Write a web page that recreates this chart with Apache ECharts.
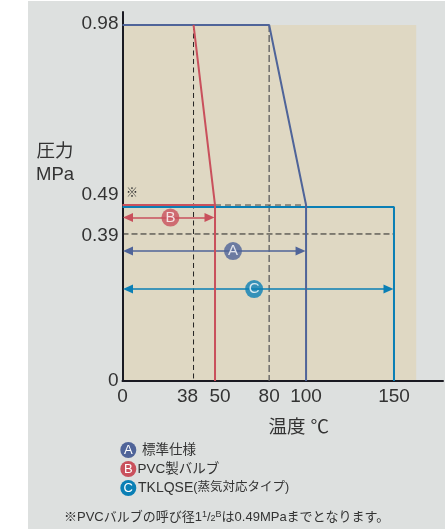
<!DOCTYPE html>
<html>
<head>
<meta charset="utf-8">
<style>
html, body { margin: 0; padding: 0; background: #fff; }
#chart { width: 445px; height: 529px; }
</style>
<script src="https://cdn.jsdelivr.net/npm/echarts@6/dist/echarts.min.js"></script>
</head>
<body>
<div id="chart"></div>
<script>
// tick labels, and where the (not to scale) diagram draws each one
var xTicks = [0, 38, 50, 80, 100, 150];
var xDrawn = [0, 38.7, 50.4, 79.9, 100, 147.9];
var yTicks = [0, 0.39, 0.49, 0.98];
var yDrawn = [0, 0.4047, 0.4844, 0.98];

// pressure / temperature limits [temp, MPa]
var seriesA = [[0, 0.98], [80, 0.98], [100, 0.49], [100, 0]];
var seriesB = [[38, 0.98], [50, 0.49], [50, 0]];
var seriesBTop = [[0, 0.49], [50, 0.49]];
var seriesC = [[0, 0.49], [150, 0.49], [150, 0]];

// dashed guides
var guide38 = [[38, 0.98], [38, 0]];
var guide80 = [[80, 0.98], [80, 0]];
var guide49 = [[50, 0.49], [100, 0.49]];
var guide39 = [[0, 0.39], [150, 0.39]];

// range arrows: name, max temp, drawn height, badge position
var rangeNames = ['A', 'B', 'C'];
var rangeMax = [100, 50, 150];
var rangeHeight = [0.3577, 0.45, 0.2532];
var badgeX = [60.2, 26.1, 71.7];

var legendNames = ['標準仕様', 'PVC製バルブ', '{t|TKLQSE}(蒸気対応タイプ)'];

var colorA = '#4f6499', colorB = '#c9505c', colorC = '#0a7fb5';
var rangeColors = [colorA, colorB, colorC];
var font = '"Liberation Sans", "Noto Sans CJK JP", sans-serif';
var textColor = '#333';

function drawnX(v) { return xDrawn[xTicks.indexOf(v)]; }
function drawnY(v) { return yDrawn[yTicks.indexOf(v)]; }
function place(list) {
    return list.map(function (p) { return [drawnX(p[0]), drawnY(p[1])]; });
}
function lineSeries(data, color, width, dash, z) {
    return {
        type: 'line', data: data, symbol: 'none', silent: true, z: z || 3,
        animation: false, clip: false,
        lineStyle: { color: color, width: width, type: dash || 'solid' }
    };
}

var chart = echarts.init(document.getElementById('chart'));

var series = [
    // beige area, under the axis lines
    {
        type: 'line', data: [], silent: true, animation: false, z: -1,
        markArea: {
            silent: true, z: -1,
            itemStyle: { color: '#dfd8c3' },
            data: [[{ coord: [0, 0] }, { coord: [160, 0.98] }]]
        }
    },
    lineSeries(place(guide38), '#222', 1, [5, 3.5]),
    lineSeries(place(guide80), '#666', 1.4, [7, 3]),
    lineSeries(place(guide49), '#444', 1, [6, 4]),
    lineSeries(place(guide39), '#222', 1, [6, 3]),
    lineSeries(place(seriesC).map(function (p) {
        return [p[0], p[1] > 0 ? p[1] - 0.0055 : p[1]];
    }), colorC, 2, null, 4),
    lineSeries(place(seriesA), colorA, 2, null, 5),
    lineSeries(place(seriesB), colorB, 2, null, 5),
    lineSeries(place(seriesBTop), colorB, 2, null, 5)
];

rangeNames.forEach(function (name, i) {
    series.push({
        type: 'line', data: [], silent: true, animation: false, z: 6,
        markLine: {
            silent: true, animation: false,
            symbol: ['triangle', 'triangle'], symbolSize: [9, 10],
            label: { show: false },
            lineStyle: { color: rangeColors[i], width: 1.6, type: 'solid' },
            itemStyle: { color: rangeColors[i] },
            data: [[
                { coord: [3, rangeHeight[i]] },
                { coord: [drawnX(rangeMax[i]) - 3, rangeHeight[i]] }
            ]]
        }
    });
    series.push({
        type: 'scatter', silent: true, animation: false, z: 7,
        data: [[badgeX[i], rangeHeight[i]]],
        symbolSize: 18,
        itemStyle: { color: rangeColors[i] },
        label: {
            show: true, position: 'inside', formatter: name,
            color: '#fff', fontSize: 15, fontFamily: font
        }
    });
});

var graphic = [
    { type: 'rect', z: -10, silent: true, shape: { x: 28, y: 1, width: 417, height: 528 }, style: { fill: '#dde0df' } },
    { type: 'text', x: 126, y: 188, z: 10, silent: true, style: { text: '※', font: '12px ' + font, fill: textColor } },
    // y axis title sits well above the middle of the axis
    { type: 'text', x: 55, y: 152, z: 10, silent: true, style: { text: '圧力', font: '18.5px ' + font, fill: textColor, align: 'center', verticalAlign: 'middle' } },
    { type: 'text', x: 55, y: 175, z: 10, silent: true, style: { text: 'MPa', font: '18.5px ' + font, fill: textColor, align: 'center', verticalAlign: 'middle' } },
    {
        type: 'text', x: 64, y: 517, z: 10, silent: true,
        style: {
            text: '※PVCバルブの呼び径1{s|1}/{b|2}{s|B}は0.49MPaまでとなります。',
            font: '13px ' + font, fill: textColor, verticalAlign: 'middle',
            rich: {
                s: { fontSize: 9, padding: [0, 0, 5, 0], fontFamily: font, fill: textColor },
                b: { fontSize: 9, padding: [4, 0, 0, 0], fontFamily: font, fill: textColor }
            }
        }
    }
];
var legendTextX = [142, 137.5, 138];
var legendFont = [13.5, 13.5, 12.5];
legendNames.forEach(function (name, i) {
    var y = 450 + i * 19;
    graphic.push({
        type: 'circle', z: 10, silent: true,
        shape: { cx: 128.3, cy: y, r: 8 },
        style: { fill: rangeColors[i] }
    });
    graphic.push({
        type: 'text', x: 128.3, y: y, z: 11, silent: true,
        style: { text: rangeNames[i], font: '13px ' + font, fill: '#fff', align: 'center', verticalAlign: 'middle' }
    });
    graphic.push({
        type: 'text', x: legendTextX[i], y: y, z: 10, silent: true,
        style: {
            text: name, font: legendFont[i] + 'px ' + font, fill: textColor, verticalAlign: 'middle',
            rich: { t: { fontSize: 14, fontFamily: font, fill: textColor } }
        }
    });
});

chart.setOption({
    animation: false,
    backgroundColor: 'transparent',
    textStyle: { fontFamily: font },
    grid: { left: 122.5, right: 2, top: 12, bottom: 148, containLabel: false },
    xAxis: {
        type: 'value', min: 0, max: 174.6, z: 3,
        name: '温度 ℃', nameLocation: 'middle', nameGap: 38,
        nameTextStyle: { fontSize: 18.5, color: textColor, padding: [0, 0, 0, 32], fontFamily: font },
        axisLine: { show: true, lineStyle: { color: '#1a1a22', width: 2 } },
        axisTick: { show: false },
        splitLine: { show: false },
        axisLabel: {
            customValues: xDrawn, margin: 6, fontSize: 19, color: textColor, fontFamily: font, hideOverlap: false,
            formatter: function (v) {
                var t = xTicks[xDrawn.indexOf(v)];
                if (t === 38) return '{l|38}';
                if (t === 50) return '{r|50}';
                return String(t);
            },
            rich: {
                l: { fontSize: 19, color: textColor, padding: [0, 12, 0, 0] },
                r: { fontSize: 19, color: textColor, padding: [0, 0, 0, 10] }
            }
        }
    },
    yAxis: {
        type: 'value', min: 0, max: 1.0157, z: 3,
        axisLine: { show: true, lineStyle: { color: '#1a1a22', width: 2 } },
        axisTick: { show: false },
        splitLine: { show: false },
        axisLabel: {
            customValues: yDrawn, margin: 4, fontSize: 19, color: textColor, fontFamily: font, hideOverlap: false,
            formatter: function (v) {
                var t = yTicks[yDrawn.indexOf(v)];
                if (t === 0.49) return '{u|0.49}';
                if (t === 0.39) return '{d|0.39}';
                if (t === 0.98) return '{a|0.98}';
                return String(t);
            },
            rich: {
                u: { fontSize: 19, color: textColor, padding: [0, 0, 20, 0] },
                d: { fontSize: 19, color: textColor, padding: [4, 0, 0, 0] },
                a: { fontSize: 19, color: textColor, padding: [0, 0, 2, 0] }
            }
        }
    },
    series: series,
    graphic: graphic
});
</script>
</body>
</html>
